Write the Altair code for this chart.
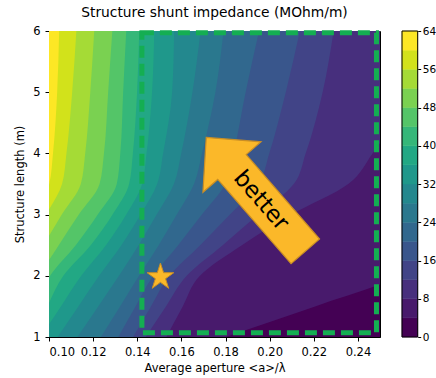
import altair as alt
import pandas as pd

title_text = "Structure shunt impedance (MOhm/m)"
x_title = "Average aperture <a>/λ"
y_title = "Structure length (m)"

# plot extents (data units)
aperture_range = [0.10, 0.25]
length_range = [1.0, 6.0]

# contour lines: aperture <a>/λ where the impedance crosses each level,
# at these structure lengths (values outside 0.10-0.25 lie beyond the plot edge)
contour_L = [1.0, 1.5, 2.0, 2.5, 3.0, 3.5, 4.0, 5.0, 6.0]
contour_a = {
    4:  [0.1800, 0.2206, 0.2602, 0.2840, 0.3134, 0.3315, 0.3497, 0.3723, 0.3950],
    8:  [0.1532, 0.1606, 0.1684, 0.1874, 0.2098, 0.2356, 0.2466, 0.2636, 0.2681],
    12: [0.1438, 0.1530, 0.1624, 0.1787, 0.1948, 0.2109, 0.2163, 0.2240, 0.2290],
    16: [0.1381, 0.1462, 0.1546, 0.1685, 0.1820, 0.1950, 0.1998, 0.2073, 0.2137],
    20: [0.1314, 0.1392, 0.1472, 0.1585, 0.1693, 0.1799, 0.1836, 0.1891, 0.1952],
    24: [0.1235, 0.1322, 0.1408, 0.1497, 0.1579, 0.1657, 0.1693, 0.1754, 0.1791],
    28: [0.1129, 0.1223, 0.1317, 0.1406, 0.1488, 0.1566, 0.1599, 0.1650, 0.1687],
    32: [0.1039, 0.1133, 0.1227, 0.1328, 0.1415, 0.1490, 0.1517, 0.1558, 0.1567],
    36: [0.0962, 0.1054, 0.1146, 0.1258, 0.1350, 0.1422, 0.1442, 0.1467, 0.1477],
    40: [0.0921, 0.0992, 0.1065, 0.1189, 0.1288, 0.1363, 0.1380, 0.1399, 0.1409],
    44: [0.0878, 0.0941, 0.1005, 0.1121, 0.1221, 0.1307, 0.1323, 0.1336, 0.1350],
    48: [0.0807, 0.0881, 0.0955, 0.1044, 0.1135, 0.1229, 0.1249, 0.1268, 0.1287],
    52: [0.0778, 0.0829, 0.0895, 0.0975, 0.1058, 0.1144, 0.1164, 0.1187, 0.1205],
    56: [0.0778, 0.0798, 0.0827, 0.0910, 0.0987, 0.1059, 0.1079, 0.1105, 0.1124],
    60: [0.0778, 0.0778, 0.0782, 0.0856, 0.0928, 0.1001, 0.1018, 0.1037, 0.1046],
}

x_ticks = [0.10, 0.12, 0.14, 0.16, 0.18, 0.20, 0.22, 0.24]
y_ticks = [1, 2, 3, 4, 5, 6]

# contour levels and colorbar
level_lo = [0, 4, 8, 12, 16, 20, 24, 28, 32, 36, 40, 44, 48, 52, 56, 60]
level_hi = [4, 8, 12, 16, 20, 24, 28, 32, 36, 40, 44, 48, 52, 56, 60, 64]
level_mid = [2, 6, 10, 14, 18, 22, 26, 30, 34, 38, 42, 46, 50, 54, 58, 62]
thresholds = [4, 8, 12, 16, 20, 24, 28, 32, 36, 40, 44, 48, 52, 56, 60]
cbar_ticks = [0, 8, 16, 24, 32, 40, 48, 56, 64]
viridis16 = ["#440154", "#481a6c", "#472f7d", "#414487", "#39568c", "#31688e",
             "#2a788e", "#23888e", "#1f988b", "#22a884", "#35b779", "#54c568",
             "#7ad151", "#a5db36", "#d2e21b", "#fde725"]

# annotations (data coordinates)
region_a = [0.1421, 0.2484]
region_L = [1.07, 5.97]
star_a = [0.1505]
star_L = [1.98]
arrow_a = [0.1937]
arrow_L = [3.33]
label_a = [0.1961]
label_L = [3.23]

xs = alt.Scale(domain=aperture_range, nice=False, zero=False)
ys = alt.Scale(domain=length_range, nice=False, zero=False)
cs = alt.Scale(type="threshold", domain=thresholds, range=viridis16)

# lowest band fills the whole plot
base_df = pd.DataFrame({"a0": [aperture_range[0]], "a1": [aperture_range[1]],
                        "L0": [length_range[0]], "L1": [length_range[1]], "z": [level_mid[0]]})
base = alt.Chart(base_df).mark_rect().encode(
    x=alt.X("a0:Q", scale=xs, axis=alt.Axis(values=x_ticks, format=".2f", title=x_title,
                                            labelPadding=5, titlePadding=5)),
    x2="a1:Q",
    y=alt.Y("L0:Q", scale=ys, axis=alt.Axis(values=y_ticks, format="d", title=y_title,
                                            labelPadding=5, titlePadding=7)),
    y2="L1:Q",
    color=alt.Color("z:Q", scale=cs, legend=None),
)

band_layers = []
for k, lvl in enumerate(thresholds):
    bdf = pd.DataFrame({"L0": contour_L, "a0": contour_a[lvl],
                        "a1": [aperture_range[0]] * len(contour_L),
                        "z": [level_mid[k + 1]] * len(contour_L)})
    band_layers.append(
        alt.Chart(bdf).mark_area(orient="horizontal", interpolate="monotone", clip=True).encode(
            y=alt.Y("L0:Q", scale=ys),
            x=alt.X("a0:Q", scale=xs),
            x2="a1:Q",
            color=alt.Color("z:Q", scale=cs, legend=None),
        )
    )

box_df = pd.DataFrame({"a0": [region_a[0]], "a1": [region_a[1]],
                       "L0": [region_L[0]], "L1": [region_L[1]]})
box = alt.Chart(box_df).mark_rect(fillOpacity=0, stroke="#14ae52", strokeWidth=5,
                                  strokeDash=[12, 6]).encode(
    x=alt.X("a0:Q", scale=xs), x2="a1:Q", y=alt.Y("L0:Q", scale=ys), y2="L1:Q")

star_path = ("M0,-1 L0.2245,-0.309 L0.9511,-0.309 L0.3633,0.118 L0.5878,0.809 L0,0.382 "
             "L-0.5878,0.809 L-0.3633,0.118 L-0.9511,-0.309 L-0.2245,-0.309 Z")
star_df = pd.DataFrame({"a0": star_a, "L0": star_L})
star = alt.Chart(star_df).mark_point(shape=star_path, filled=True, size=784, color="#fbb829",
                                     stroke="#c98e25", strokeWidth=1, opacity=1).encode(
    x=alt.X("a0:Q", scale=xs), y=alt.Y("L0:Q", scale=ys))

arrow_path = "M0,-1 L0.51,-0.48 L0.25,-0.48 L0.25,1 L-0.25,1 L-0.25,-0.48 L-0.51,-0.48 Z"
arrow_df = pd.DataFrame({"a0": arrow_a, "L0": arrow_L})
arrow = alt.Chart(arrow_df).mark_point(shape=arrow_path, filled=True, size=22800, angle=319,
                                       color="#fbb829", stroke="#c98e25", strokeWidth=1.2,
                                       opacity=1).encode(
    x=alt.X("a0:Q", scale=xs), y=alt.Y("L0:Q", scale=ys))

label_df = pd.DataFrame({"a0": label_a, "L0": label_L, "t": ["better"]})
label = alt.Chart(label_df).mark_text(angle=49, fontSize=23, font="DejaVu Sans", color="black",
                                      align="center", baseline="middle").encode(
    x=alt.X("a0:Q", scale=xs), y=alt.Y("L0:Q", scale=ys), text="t:N")

main = alt.layer(base, *band_layers, box, star, arrow, label)

cb_df = pd.DataFrame({"lo": level_lo, "hi": level_hi, "mid": level_mid})
cb_scale = alt.Scale(domain=[level_lo[0], level_hi[-1]], nice=False, zero=False)
cb_axis = alt.Axis(orient="right", values=cbar_ticks, offset=37.7, title=None,
                   labelPadding=1.5, tickSize=3, labelFontSize=10.5, labelOverlap=False,
                   labelBound=False, labelFlush=False, domain=False)
cbar_bands = alt.Chart(cb_df).mark_rect(strokeWidth=0.5).encode(
    x=alt.value(353), x2=alt.value(368.7),
    y=alt.Y("lo:Q", scale=cb_scale, axis=cb_axis),
    y2="hi:Q",
    color=alt.Color("mid:Q", scale=cs, legend=None),
    stroke=alt.Stroke("mid:Q", scale=cs, legend=None),
)
cb_out_df = pd.DataFrame({"lo": [level_lo[0]], "hi": [level_hi[-1]]})
cbar_outline = alt.Chart(cb_out_df).mark_rect(fillOpacity=0, stroke="black", strokeWidth=1).encode(
    x=alt.value(353), x2=alt.value(368.7),
    y=alt.Y("lo:Q", scale=cb_scale, axis=cb_axis), y2="hi:Q")
cbar = alt.layer(cbar_bands, cbar_outline)

chart = alt.layer(main, cbar).resolve_scale(y="independent").properties(
    width=331, height=306,
    padding={"left": 49, "top": 31, "right": 56, "bottom": 41},
    autosize=alt.AutoSizeParams(type="none"),
    background="white",
    title=alt.TitleParams(title_text, fontSize=13.8, font="DejaVu Sans", fontWeight="normal",
                          color="black", offset=5, anchor="middle"),
).configure_view(stroke="black", strokeWidth=1).configure_axis(
    labelFont="DejaVu Sans", labelFontSize=11.5, labelColor="black",
    titleFont="DejaVu Sans", titleFontSize=11.5, titleFontWeight="normal", titleColor="black",
    tickColor="black", tickSize=4, domainColor="black", grid=False,
)

chart.save("out.html", embed_options={"renderer": "svg", "actions": False})
